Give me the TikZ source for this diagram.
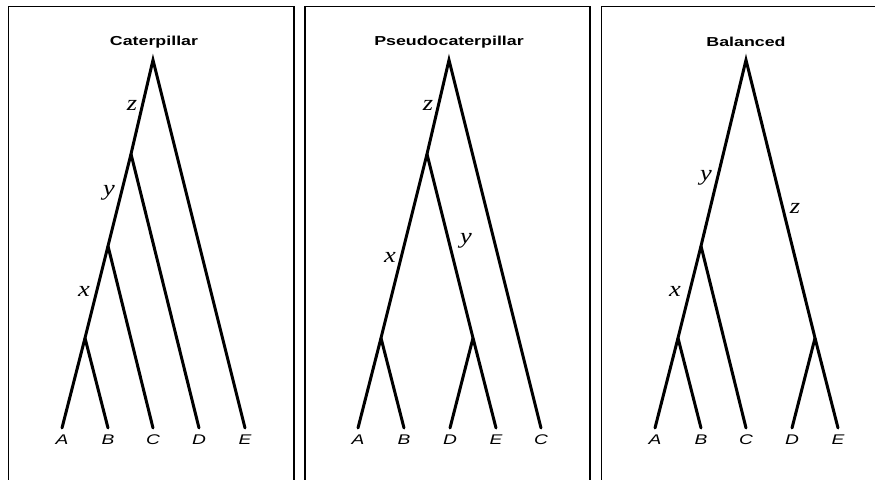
\documentclass[tikz,border=0pt]{standalone}
\usepackage{fontspec}
\setmainfont{Liberation Sans}
\newfontfamily\serifit{Liberation Serif}
\newcommand{\wide}[2]{\scalebox{#1}[1]{#2}}

\tikzset{
    frame/.style={line width=1.4pt},
    branch/.style={line width=3pt, line cap=round},
    ttl/.style={font=\fontsize{13}{15}\selectfont\bfseries},
    leaf/.style={font=\fontsize{14}{16}\selectfont\itshape},
    blab/.style={font=\fontsize{22}{24}\selectfont\serifit\itshape}
}

\begin{document}
\begin{tikzpicture}[x=1pt, y=-1pt]
    \useasboundingbox (0,0) rectangle (875,479);
    \clip (0,0) rectangle (875,479);

    %frames
    \draw[frame] (8.5,6.5) rectangle (294,495);
    \draw[frame] (305,6.5) rectangle (590,495);
    \draw[frame] (601.5,6.5) rectangle (885,495);

    %caterpillar
    \node[ttl] (t1) at (154,42) {\wide{1.37}{Caterpillar}};
    \coordinate (c1r) at (153,60);
    \coordinate (c1z) at (131,154);
    \coordinate (c1y) at (108,246);
    \coordinate (c1x) at (85,338);
    \coordinate (c1A) at (62,428);
    \coordinate (c1B) at (108,428);
    \coordinate (c1C) at (153,428);
    \coordinate (c1D) at (199,428);
    \coordinate (c1E) at (245,428);
    \draw[branch] (c1A) -- (c1x) -- (c1y) -- (c1z) -- (c1r) -- (c1E);
    \draw[branch] (c1x) -- (c1B);
    \draw[branch] (c1y) -- (c1C);
    \draw[branch] (c1z) -- (c1D);
    \foreach \l in {A,B,C,D,E}
        \node[leaf] (c1\l l) at ([yshift=-12]c1\l) {\wide{1.37}{\l}};
    \node[blab] (c1zl) at (132,105) {\wide{1.2}{z}};
    \node[blab] (c1yl) at (109,193) {\wide{1.2}{y}};
    \node[blab] (c1xl) at (84,291) {\wide{1.2}{x}};

    %pseudocaterpillar
    \node[ttl] (t2) at (449,42) {\wide{1.37}{Pseudocaterpillar}};
    \coordinate (c2r) at (449,60);
    \coordinate (c2z) at (427,154);
    \coordinate (c2x) at (381,338);
    \coordinate (c2y) at (473,338);
    \coordinate (c2A) at (358,428);
    \coordinate (c2B) at (404,428);
    \coordinate (c2D) at (450,428);
    \coordinate (c2E) at (496,428);
    \coordinate (c2C) at (541,428);
    \draw[branch] (c2A) -- (c2x) -- (c2z) -- (c2r) -- (c2C);
    \draw[branch] (c2x) -- (c2B);
    \draw[branch] (c2z) -- (c2y) -- (c2E);
    \draw[branch] (c2y) -- (c2D);
    \foreach \l in {A,B,D,E,C}
        \node[leaf] (c2\l l) at ([yshift=-12]c2\l) {\wide{1.37}{\l}};
    \node[blab] (c2zl) at (428,105) {\wide{1.2}{z}};
    \node[blab] (c2xl) at (390,257) {\wide{1.2}{x}};
    \node[blab] (c2yl) at (466,241) {\wide{1.2}{y}};

    %balanced
    \node[ttl] (t3) at (746,42) {\wide{1.37}{Balanced}};
    \coordinate (c3r) at (746,60);
    \coordinate (c3y) at (701,246);
    \coordinate (c3x) at (678,338);
    \coordinate (c3z) at (815,338);
    \coordinate (c3A) at (655,428);
    \coordinate (c3B) at (701,428);
    \coordinate (c3C) at (746,428);
    \coordinate (c3D) at (792,428);
    \coordinate (c3E) at (838,428);
    \draw[branch] (c3A) -- (c3x) -- (c3y) -- (c3r) -- (c3z) -- (c3E);
    \draw[branch] (c3x) -- (c3B);
    \draw[branch] (c3y) -- (c3C);
    \draw[branch] (c3z) -- (c3D);
    \foreach \l in {A,B,C,D,E}
        \node[leaf] (c3\l l) at ([yshift=-12]c3\l) {\wide{1.37}{\l}};
    \node[blab] (c3yl) at (706,178) {\wide{1.2}{y}};
    \node[blab] (c3zl) at (795,208) {\wide{1.2}{z}};
    \node[blab] (c3xl) at (675,291) {\wide{1.2}{x}};
\end{tikzpicture}
\end{document}
